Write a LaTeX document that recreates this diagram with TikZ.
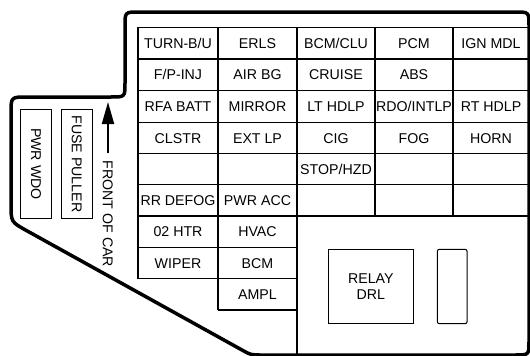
\documentclass[tikz,border=0pt]{standalone}
\usepackage{fontspec}
\setmainfont{Liberation Sans}
\usetikzlibrary{arrows.meta}
\begin{document}
\begin{tikzpicture}[x=1pt,y=-1pt,
  lbl/.style={font=\fontsize{14.2}{16}\selectfont, inner sep=0pt, text height=10.2pt, text depth=0pt},
  gridline/.style={line width=1.2pt},
  boxed/.style={draw, line width=1pt, inner sep=0pt},
  border/.style={line width=3.5pt, line join=round}]
\useasboundingbox (0,0) rectangle (530,356);

% grid lines
\foreach \yy in {27.3,59,90.7,122.3,153.5,184.8,216}
  \draw[gridline] (138,\yy) -- (529,\yy);
\foreach \yy in {247.5,278.8}
  \draw[gridline] (138,\yy) -- (297,\yy);
\draw[gridline] (218,310) -- (297,310);
\draw[gridline] (138,27.3) -- (138,278.8);
\draw[gridline] (218,27.3) -- (218,310);
\draw[gridline] (297,27.3) -- (297,355);
\draw[gridline] (375,27.3) -- (375,216);
\draw[gridline] (453,27.3) -- (453,216);

% cell labels
\node[lbl] (turnbu) at (178,43.15) {TURN-B/U};
\node[lbl] (erls) at (257.5,43.15) {ERLS};
\node[lbl] (bcmclu) at (336,43.15) {BCM/CLU};
\node[lbl] (pcm) at (414,43.15) {PCM};
\node[lbl] (ignmdl) at (491,43.15) {IGN MDL};

\node[lbl] (fpinj) at (178,74.85) {F/P-INJ};
\node[lbl] (airbg) at (257.5,74.85) {AIR BG};
\node[lbl] (cruise) at (336,74.85) {CRUISE};
\node[lbl] (abs) at (414,74.85) {ABS};

\node[lbl] (rfabatt) at (178,106.5) {RFA BATT};
\node[lbl] (mirror) at (257.5,106.5) {MIRROR};
\node[lbl] (lthdlp) at (336,106.5) {LT HDLP};
\node[lbl] (rdointlp) at (414,106.5) {RDO/INTLP};
\node[lbl] (rthdlp) at (491,106.5) {RT HDLP};

\node[lbl] (clstr) at (178,137.9) {CLSTR};
\node[lbl] (extlp) at (257.5,137.9) {EXT LP};
\node[lbl] (cig) at (336,137.9) {CIG};
\node[lbl] (fog) at (414,137.9) {FOG};
\node[lbl] (horn) at (491,137.9) {HORN};

\node[lbl] (stophzd) at (336,169.15) {STOP/HZD};

\node[lbl] (rrdefog) at (178,200.4) {RR DEFOG};
\node[lbl] (pwracc) at (257.5,200.4) {PWR ACC};

\node[lbl] (htr) at (178,231.75) {02 HTR};
\node[lbl] (hvac) at (257.5,231.75) {HVAC};

\node[lbl] (wiper) at (178,263.15) {WIPER};
\node[lbl] (bcm) at (257.5,263.15) {BCM};

\node[lbl] (ampl) at (257.5,294.4) {AMPL};

% relay and spare
\node[boxed, minimum width=85pt, minimum height=74.4pt] (relay) at (370.8,286.5) {};
\node[align=center, inner sep=0pt, font=\fontsize{14.2}{15.8}\selectfont] (relaytext) at (relay.center) {RELAY\\DRL};
\node[boxed, rounded corners=2pt, minimum width=29.7pt, minimum height=74.4pt] (spare) at (452.2,286.5) {};

% left boxes
\node[boxed, lbl, rotate=-90, minimum width=109.7pt, minimum height=30.7pt] (pwrwdo) at (36.3,163.9) {PWR WDO};
\node[boxed, lbl, rotate=-90, minimum width=109.7pt, minimum height=30.6pt] (fusepuller) at (77,163.9) {FUSE PULLER};

% front of car
\node[lbl, rotate=-90] (front) at (108,214) {FRONT OF CAR};
\coordinate (arrowtail) at (108,153);
\coordinate (arrowtip) at (108,102);
\draw[line width=2pt, -{Triangle[length=22pt,width=12pt]}] (arrowtail) -- (arrowtip);

% outer border
\draw[border]
  (125,26) .. controls (125,12) .. (139,12)
  -- (515,12) .. controls (529,12) .. (529,26)
  -- (529,341) .. controls (529,355) .. (515,355)
  -- (261,355) .. controls (251,355) .. (242.25,350.15)
  -- (26.75,230.7) .. controls (11,222) .. (11,204)
  -- (11,113) .. controls (11,97) .. (27,97)
  -- (111,97) .. controls (125,97) .. (125,83)
  -- cycle;
\end{tikzpicture}
\end{document}
